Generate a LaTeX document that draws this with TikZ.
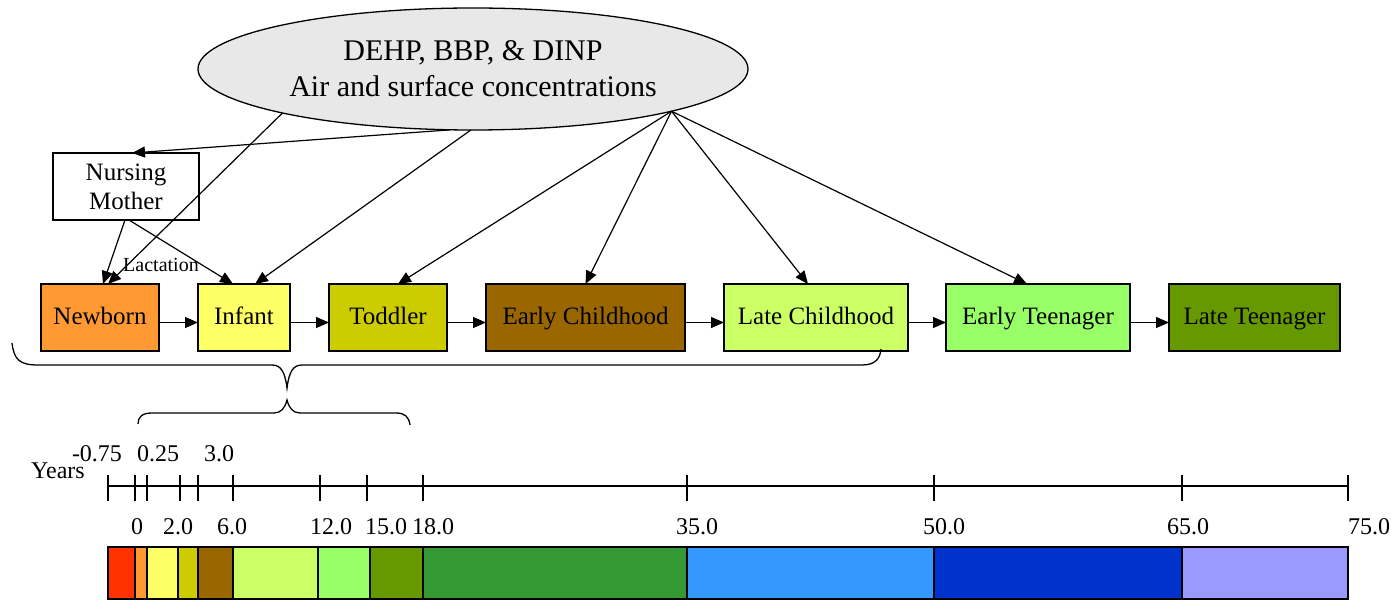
\documentclass[tikz,border=0pt]{standalone}
\usepackage{fontspec}
\setmainfont{Liberation Serif}
\usetikzlibrary{arrows.meta,shapes.geometric}

% stage colours
\definecolor{srcgray}{HTML}{E8E8E8}
\definecolor{cRed}{HTML}{FF3300}
\definecolor{cOrange}{HTML}{FF9933}
\definecolor{cYellow}{HTML}{FFFF66}
\definecolor{cOlive}{HTML}{CCCC00}
\definecolor{cBrown}{HTML}{996600}
\definecolor{cLime}{HTML}{CCFF66}
\definecolor{cLightGreen}{HTML}{99FF66}
\definecolor{cDarkOlive}{HTML}{669900}
\definecolor{cGreen}{HTML}{339933}
\definecolor{cSky}{HTML}{3399FF}
\definecolor{cBlue}{HTML}{0033CC}
\definecolor{cLavender}{HTML}{9999FF}

\begin{document}
\begin{tikzpicture}[x=1pt,y=-1pt,
  every node/.style={inner sep=0pt,outer sep=0pt},
  stagebox/.style={draw=black,line width=1.6pt,minimum height=67pt,
    text height=19pt,text depth=5pt,
    font=\fontsize{25}{30}\selectfont},
  link/.style={line width=1.2pt,-{Triangle[length=13pt,width=11pt]}},
  tick label/.style={font=\fontsize{24}{28}\selectfont,text height=17pt,text depth=1pt},
  bracepath/.style={line width=1.3pt},
  segment/.style={draw=black,line width=1.5pt}
]
\useasboundingbox (0,0) rectangle (1391,601);

% source of exposure
\node[ellipse,draw=black,line width=1.3pt,fill=srcgray,
      minimum width=550pt,minimum height=122pt,align=center,
      font=\fontsize{30}{38}\selectfont] (src) at (473,69)
  {DEHP, BBP, \& DINP\\[-2pt]Air and surface concentrations};

% nursing mother
\node[draw=black,line width=1.4pt,minimum width=146pt,minimum height=67pt,
      align=center,font=\fontsize{25}{29}\selectfont] (nm) at (126,186.5)
  {Nursing\\Mother};

% life stages
\node[stagebox,fill=cOrange,minimum width=118pt] (newborn) at (100,317.5) {Newborn};
\node[stagebox,fill=cYellow,minimum width=92pt] (infant) at (244,317.5) {Infant};
\node[stagebox,fill=cOlive,minimum width=118pt] (toddler) at (388,317.5) {Toddler};
\node[stagebox,fill=cBrown,minimum width=199pt] (early) at (585.5,317.5) {Early Childhood};
\node[stagebox,fill=cLime,minimum width=184pt] (late) at (816,317.5) {Late Childhood};
\node[stagebox,fill=cLightGreen,minimum width=184pt] (eteen) at (1038,317.5) {Early Teenager};
\node[stagebox,fill=cDarkOlive,minimum width=171pt] (lteen) at (1254.5,317.5) {Late Teenager};

% progression between stages
\foreach \a/\b in {newborn/infant,infant/toddler,toddler/early,early/late,late/eteen,eteen/lteen}
  \draw[link] ([yshift=-5pt]\a.east) -- ([yshift=-5pt]\b.west);

% exposure pathways
\draw[link] (src.-110.7) -- ([xshift=6pt]nm.north);
\draw[link] (src.-167.6) -- ([xshift=8pt]newborn.north);
\draw[link] (src.-92.8) -- ([xshift=11pt]infant.north);
\draw[link] (src.-12.5) -- ([xshift=10pt]toddler.north);
\draw[link] (src.-12.5) -- ([xshift=0pt]early.north);
\draw[link] (src.-12.5) -- ([xshift=-8pt]late.north);
\draw[link] (src.-12.5) -- ([xshift=-11pt]eteen.north);
\draw[link] ([xshift=-1pt]nm.south) -- ([xshift=3pt]newborn.north);
\draw[link] ([xshift=3pt]nm.south) -- ([xshift=-11pt]infant.north);
\node[font=\fontsize{20}{24}\selectfont] (lact) at (161,265) {Lactation};

% braces grouping the stages
\draw[bracepath] (12,343) .. controls (14,360) and (20,365) .. (38,365)
  -- (272,365) .. controls (281,365) and (285,372) .. (287,388)
  .. controls (289,372) and (293,365) .. (302,365)
  -- (862,365) .. controls (875,365) and (880,359) .. (881,349);
\draw[bracepath] (138,424) .. controls (138,417) and (142,413) .. (152,413)
  -- (274,413) .. controls (281,413) and (285,408) .. (287,400)
  .. controls (289,408) and (293,413) .. (300,413)
  -- (396,413) .. controls (405,413) and (409,417) .. (410,425);

% age axis
\node[tick label] (years) at (58,470) {Years};
\draw[line width=1.4pt] (108,486) -- (1348,486);
\foreach \x in {108,135,147,180,198,233,320,367,423,687,934,1182,1348}
  \draw[line width=1.4pt] (\x,475) -- (\x,501);
\node[tick label] (tA) at (97,453) {-0.75};
\node[tick label] (tB) at (158,453) {0.25};
\node[tick label] (tC) at (219,453) {3.0};
\node[tick label] (tD) at (137,526) {0};
\node[tick label] (tE) at (178,526) {2.0};
\node[tick label] (tF) at (232,526) {6.0};
\node[tick label] (tG) at (331,526) {12.0};
\node[tick label] (tH) at (386,526) {15.0};
\node[tick label] (tI) at (433,526) {18.0};
\node[tick label] (tJ) at (697,526) {35.0};
\node[tick label] (tK) at (944,526) {50.0};
\node[tick label] (tL) at (1188,526) {65.0};
\node[tick label] (tM) at (1369,526) {75.0};

% age band colour bar
\foreach \l/\r/\c in {108/135/cRed,135/147/cOrange,147/178/cYellow,178/198/cOlive,
  198/233/cBrown,233/318/cLime,318/370/cLightGreen,370/423/cDarkOlive,
  423/687/cGreen,687/934/cSky,934/1182/cBlue,1182/1348/cLavender}
  \draw[segment,fill=\c] (\l,547) rectangle (\r,599);
\end{tikzpicture}
\end{document}
